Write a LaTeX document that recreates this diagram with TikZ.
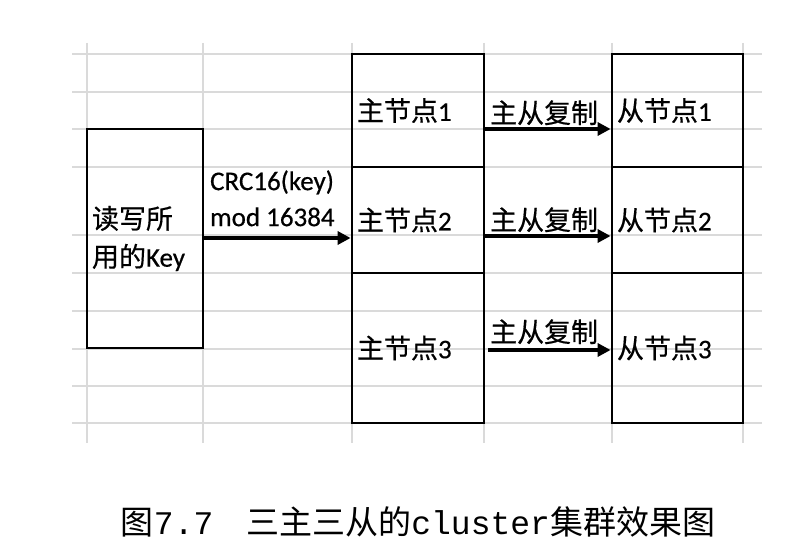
\documentclass[tikz,border=0pt]{standalone}
\usepackage{fontspec}
\setmainfont{Carlito}[FakeBold=0.5]
\newfontfamily\cjk{Noto Sans CJK SC}[FakeBold=0.5]
\newfontfamily\capcjk{Noto Sans CJK SC}
\newfontfamily\capmono{Liberation Mono}
\usetikzlibrary{arrows.meta}
\definecolor{gridc}{HTML}{DADADA}
\begin{document}
\begin{tikzpicture}[x=1pt,y=-1pt,
  gridline/.style={gridc, line width=1.2pt},
  box/.style={draw=black, line width=2.8pt, inner xsep=5pt, inner ysep=0pt, align=left,
              font=\fontsize{27}{38}\selectfont},
  arr/.style={line width=3.4pt, -{Triangle[length=13pt,width=13pt]}},
  lbl/.style={font=\fontsize{27}{36}\selectfont, inner sep=0pt, align=left},
  captxt/.style={font=\fontsize{33}{36}\selectfont, inner sep=0pt}]
\useasboundingbox (0,0) rectangle (800,548);
\fill[white] (0,0) rectangle (800,548);
% spreadsheet grid
\foreach \y in {54,92,129,167,235,273,311,349,386,423}
  \draw[gridline] (72,\y) -- (762,\y);
\foreach \x in {87,203,352,484,612,743}
  \draw[gridline] (\x,43) -- (\x,443);
% boxes
\node[box, minimum width=116pt, minimum height=219pt, text width=106pt] (key) at (145,238.5)
  {{\cjk 读写所}\\{\cjk 用的}Key};
\node[box, minimum width=132pt, minimum height=113pt, text width=122pt] (m1) at (418,110.5) {{\cjk 主节点}1};
\node[box, minimum width=132pt, minimum height=106pt, text width=122pt] (m2) at (418,220) {{\cjk 主节点}2};
\node[box, minimum width=132pt, minimum height=150pt, text width=122pt] (m3) at (418,348) {{\cjk 主节点}3};
\node[box, minimum width=131pt, minimum height=113pt, text width=121pt] (s1) at (677.5,110.5) {{\cjk 从节点}1};
\node[box, minimum width=131pt, minimum height=106pt, text width=121pt] (s2) at (677.5,220) {{\cjk 从节点}2};
\node[box, minimum width=131pt, minimum height=150pt, text width=121pt] (s3) at (677.5,348) {{\cjk 从节点}3};
% connectors
\draw[arr] ([yshift=0.5pt]key.east) -- ([yshift=0.5pt]key.east -| m2.west)
  node[lbl, pos=0, anchor=south west, xshift=4pt, yshift=10pt] (crc) {CRC16(key)\\mod 16384};
\draw[arr] ([yshift=-18.5pt]m1.east) -- ([yshift=-18.5pt]s1.west)
  node[lbl, pos=0, anchor=base west, xshift=3pt, yshift=6pt] (r1) {\cjk 主从复制};
\draw[arr] ([yshift=-16pt]m2.east) -- ([yshift=-16pt]s2.west)
  node[lbl, pos=0, anchor=base west, xshift=3pt, yshift=6pt] (r2) {\cjk 主从复制};
\draw[arr] ([xshift=3pt,yshift=-2pt]m3.east) -- ([yshift=-2pt]s3.west)
  node[lbl, pos=0, anchor=base west, xshift=0pt, yshift=8pt] (r3) {\cjk 主从复制};
% caption
\node[captxt] (caption) at (418,522)
  {{\capcjk 图}{\capmono 7.7}\hspace{33pt}{\capcjk 三主三从的}{\capmono cluster}{\capcjk 集群效果图}};
\end{tikzpicture}
\end{document}
